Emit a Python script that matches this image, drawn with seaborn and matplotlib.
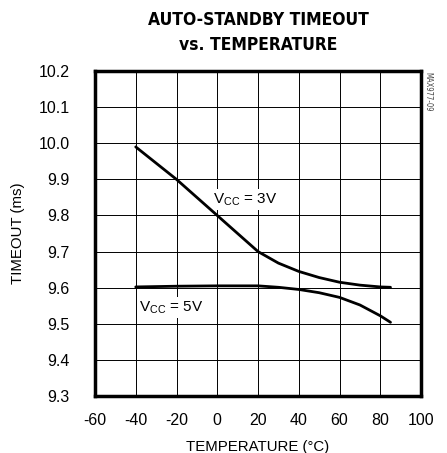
"""
Auto-standby timeout vs. temperature (MAX977 typical operating characteristic).
"""

import pandas as pd
import matplotlib
matplotlib.use("Agg")
import matplotlib.pyplot as plt
from matplotlib import font_manager
import seaborn as sns

# ── Data ──────────────────────────────────────────────────────────────────────
temp_3v = [-40, -30, -20, -10, 0, 10, 20, 30, 40, 50, 60, 70, 80, 85]
timeout_3v = [9.99, 9.945, 9.90, 9.85, 9.80, 9.75, 9.70, 9.668, 9.645, 9.628,
              9.615, 9.607, 9.602, 9.601]

temp_5v = [-40, -20, 0, 20, 30, 40, 50, 60, 70, 80, 85]
timeout_5v = [9.602, 9.604, 9.605, 9.605, 9.601, 9.595, 9.586, 9.573, 9.552,
              9.522, 9.504]

x_ticks = [-60, -40, -20, 0, 20, 40, 60, 80, 100]
y_ticks = [9.3, 9.4, 9.5, 9.6, 9.7, 9.8, 9.9, 10.0, 10.1, 10.2]

df = pd.concat([
    pd.DataFrame({"temp": temp_3v, "timeout": timeout_3v, "vcc": "3V"}),
    pd.DataFrame({"temp": temp_5v, "timeout": timeout_5v, "vcc": "5V"}),
])

# ── Style ──────────────────────────────────────────────────────────────────────
sns.set_style("white")
plt.rcParams["font.family"] = ["Liberation Sans", "DejaVu Sans"]
plt.rcParams.update({"text.color": "black", "axes.labelcolor": "black",
                     "xtick.color": "black", "ytick.color": "black"})

# a condensed bold face for the title, if one is around
names = {f.name for f in font_manager.fontManager.ttflist}
if "Liberation Sans Narrow" in names:
    title_kw = dict(family="Liberation Sans Narrow")
else:
    title_kw = dict(family="DejaVu Sans", fontstretch="condensed")

fig = plt.figure(figsize=(4.47, 4.53), dpi=100)
ax = fig.add_axes([0.2125, 0.126, 0.7295, 0.717])

sns.lineplot(data=df, x="temp", y="timeout", units="vcc", estimator=None,
             color="black", linewidth=2.0, ax=ax, legend=False, zorder=4)

ax.set_xlim(-60, 100)
ax.set_ylim(9.3, 10.2)
ax.set_xticks(x_ticks)
ax.set_yticks(y_ticks)
ax.set_xticklabels([str(t) for t in x_ticks])
ax.set_yticklabels([f"{t:.1f}" for t in y_ticks])
ax.tick_params(axis="y", length=0, labelsize=11.5, pad=18)
ax.tick_params(axis="x", length=0, labelsize=11.5, pad=12)
ax.grid(True, color="black", linewidth=0.7)
ax.set_axisbelow(True)
for s in ax.spines.values():
    s.set_color("black")
    s.set_linewidth(2.5)

ax.set_xlabel("TEMPERATURE (°C)", fontsize=10.8, labelpad=9)
ax.set_ylabel("TIMEOUT (ms)", fontsize=10.8, labelpad=10)

# curve labels, on a white patch that breaks the grid like the datasheet
box = dict(facecolor="white", edgecolor="none", pad=1.5)
ax.text(-2, 9.845, "V$_{\\mathregular{CC}}$ = 3V", fontsize=11, va="center",
        bbox=box, zorder=3)
ax.text(-38.2, 9.545, "V$_{\\mathregular{CC}}$ = 5V", fontsize=11, va="center",
        bbox=box, zorder=3)

fig.text(0.578, 0.955, "AUTO-STANDBY TIMEOUT", ha="center", va="center",
         fontsize=12.5, fontweight="bold", **title_kw)
fig.text(0.578, 0.90, "vs. TEMPERATURE", ha="center", va="center",
         fontsize=12.5, fontweight="bold", **title_kw)
fig.text(0.958, 0.84, "MAX977-09", rotation=270, ha="center", va="top",
         fontsize=5.5, color="#444444", **title_kw)

fig.savefig("out.png", dpi=100)
